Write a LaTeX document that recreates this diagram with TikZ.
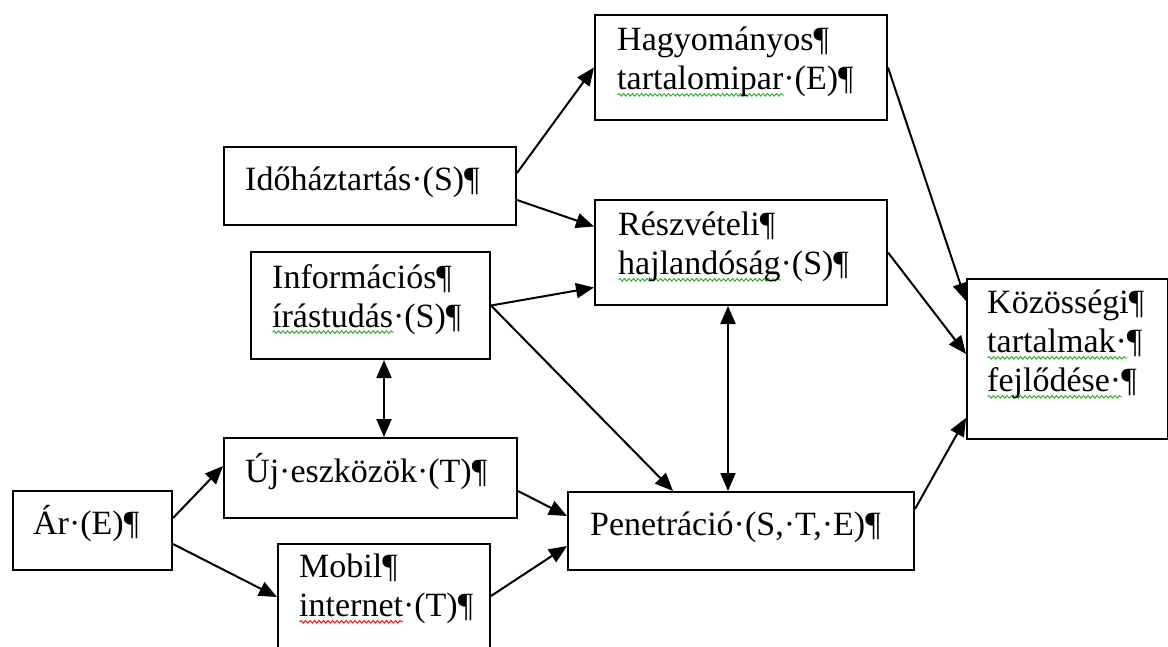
\documentclass[tikz,border=0pt]{standalone}
\usepackage{fontspec}
\setmainfont{Liberation Serif}
\usetikzlibrary{arrows.meta,positioning,decorations.pathmorphing}

\definecolor{hullamzold}{RGB}{40,170,40}
\newlength\hullamhossz
\newcommand\hullam[2]{\settowidth\hullamhossz{#2}\rlap{\tikz[baseline=0pt]\draw[#1, line width=0.9pt,
  decorate, decoration={snake, amplitude=1.3pt, segment length=4.5pt}] (0pt,-5pt) -- (\the\hullamhossz,-5pt);}#2}
\newcommand\zold[1]{\hullam{hullamzold}{#1}}
\newcommand\piros[1]{\hullam{red}{#1}}

\tikzset{
  doboz/.style={draw, line width=2pt, inner sep=0pt, anchor=north west},
  szoveg/.style={inner sep=0pt, align=left, font=\fontsize{34}{39}\selectfont,
    execute at begin node={\rule{0pt}{31pt}}},
  nyil/.style={line width=2pt, -{Triangle[length=18pt,width=15pt]}},
  ketnyil/.style={line width=2pt, {Triangle[length=18pt,width=15pt]}-{Triangle[length=18pt,width=15pt]}}
}

\begin{document}
\begin{tikzpicture}[x=1pt,y=-1pt]
\useasboundingbox (0,0) rectangle (1168,646);

\node[doboz, minimum width=292, minimum height=105] (hagy) at (594,14) {};
\node[doboz, minimum width=292, minimum height=105] (reszv) at (594,199) {};
\node[doboz, minimum width=292, minimum height=78] (ido) at (223,146) {};
\node[doboz, minimum width=239, minimum height=107] (info) at (250,251) {};
\node[doboz, minimum width=293, minimum height=80] (uj) at (223,437) {};
\node[doboz, minimum width=159, minimum height=79] (ar) at (12,490) {};
\node[doboz, minimum width=212, minimum height=120] (mobil) at (277,543) {};
\node[doboz, minimum width=346, minimum height=78] (pen) at (567,491) {};
\node[doboz, minimum width=201, minimum height=160] (koz) at (966,278) {};

\node[szoveg, below right=13pt and 23pt of hagy.north west] (hagy-t) {Hagyományos¶\\\zold{tartalomipar}·(E)¶};
\node[szoveg, below right=13pt and 24pt of reszv.north west] (reszv-t) {Részvételi¶\\\zold{hajlandóság}·(S)¶};
\node[szoveg, below right=13pt and 22pt of ido.north west] (ido-t) {Időháztartás·(S)¶};
\node[szoveg, below right=13pt and 22pt of info.north west] (info-t) {Információs¶\\\zold{írástudás}·(S)¶};
\node[szoveg, below right=14pt and 22pt of uj.north west] (uj-t) {Új·eszközök·(T)¶};
\node[szoveg, below right=13pt and 21pt of ar.north west] (ar-t) {Ár·(E)¶};
\node[szoveg, below right=11pt and 22pt of mobil.north west] (mobil-t) {Mobil¶\\\piros{internet}·(T)¶};
\node[szoveg, below right=13pt and 23pt of pen.north west] (pen-t) {Penetráció·(S,·T,·E)¶};
\node[szoveg, below right=12pt and 21pt of koz.north west] (koz-t) {Közösségi¶\\\zold{tartalmak·}¶\\\zold{fejlődése·}¶};

\draw[nyil] ([yshift=13]ido.east) -- (hagy.west);
\draw[nyil] ([yshift=-14]ido.east) -- ([yshift=26]reszv.west);
\draw[nyil] (info.east) -- ([yshift=-35]reszv.west);
\draw[nyil] (info.east) -- ([xshift=-68]pen.north);
\draw[nyil] ([yshift=12.5]ar.east) -- ([yshift=12]uj.west);
\draw[nyil] ([yshift=-13.5]ar.east) -- ([yshift=7]mobil.west);
\draw[nyil] ([yshift=-13]uj.east) -- ([yshift=15]pen.west);
\draw[nyil] ([yshift=8]mobil.east) -- ([yshift=-15]pen.west);
\draw[nyil] (hagy.east) -- ([yshift=58]koz.west);
\draw[nyil] (reszv.east) -- ([yshift=5]koz.west);
\draw[nyil] ([yshift=22]pen.east) -- ([yshift=-59]koz.west);
\draw[ketnyil] ([xshift=13.5]info.south) -- ([xshift=13.5]uj.north);
\draw[ketnyil] ([xshift=-13]reszv.south) -- ([xshift=-13]pen.north);
\end{tikzpicture}
\end{document}
